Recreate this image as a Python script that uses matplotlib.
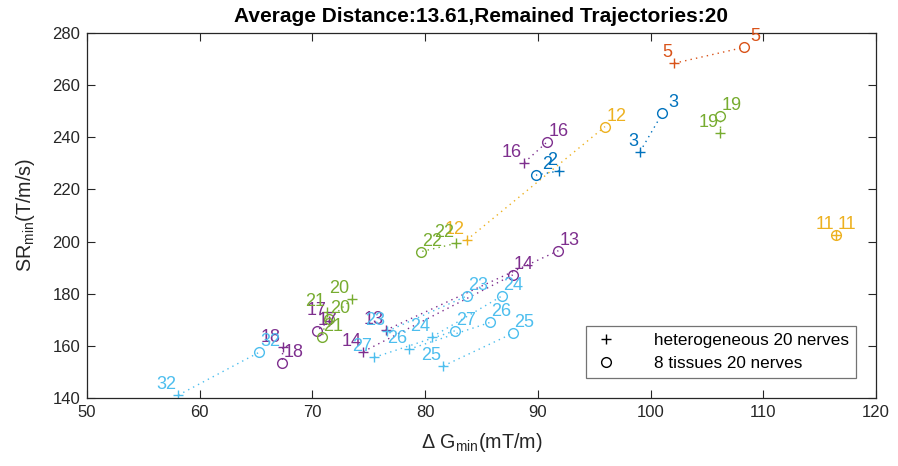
import matplotlib
matplotlib.use("Agg")
import matplotlib.pyplot as plt
from matplotlib.lines import Line2D

plt.rcParams['font.family'] = ['Liberation Sans', 'DejaVu Sans']
plt.rcParams['mathtext.fontset'] = 'custom'
plt.rcParams['mathtext.rm'] = 'Liberation Sans'
plt.rcParams['mathtext.it'] = 'Liberation Sans:italic'

# trajectory ids and their minimum gradient / slew rate for both models
traj_ids = [2, 3, 5, 11, 12, 13, 14, 16, 17, 18, 19, 20, 21, 22, 23, 24, 25, 26, 27, 32]
g_het = [91.88, 99.07, 102.1, 116.46, 83.69, 76.5, 74.52, 88.8, 71.47, 67.36,
         106.2, 73.49, 71.3, 82.74, 76.65, 80.64, 81.62, 78.57, 75.49, 58.1]
sr_het = [227.1, 234.5, 268.4, 202.5, 200.6, 166.0, 157.8, 230.3, 169.5, 159.4,
          241.8, 177.9, 173.0, 199.3, 165.6, 163.5, 152.3, 158.7, 155.6, 141.1]
g_tis = [89.84, 101.05, 108.3, 116.46, 95.96, 91.82, 87.77, 90.84, 70.38, 67.33,
         106.2, 71.5, 70.88, 79.6, 83.69, 86.8, 87.77, 85.76, 82.65, 65.26]
sr_tis = [225.5, 249.2, 274.5, 202.5, 244.1, 196.5, 187.2, 238.3, 165.8, 153.5,
          248.2, 170.2, 163.3, 196.1, 179.1, 179.1, 164.8, 169.0, 165.8, 157.5]

BLUE = (0.0, 0.447, 0.741)
ORANGE = (0.85, 0.325, 0.098)
YELLOW = (0.929, 0.694, 0.125)
PURPLE = (0.494, 0.184, 0.556)
GREEN = (0.466, 0.674, 0.188)
CYAN = (0.301, 0.745, 0.933)
traj_colors = [BLUE, BLUE, ORANGE, YELLOW, YELLOW, PURPLE, PURPLE, PURPLE, PURPLE, PURPLE,
               GREEN, GREEN, GREEN, GREEN, CYAN, CYAN, CYAN, CYAN, CYAN, CYAN]

avg_dist = 13.61
AX_COLOR = (0.15, 0.15, 0.15)

fig = plt.figure(figsize=(8.98, 4.66), dpi=100)
ax = fig.add_axes([87 / 898, 1 - 398 / 466, (876 - 87) / 898, (398 - 33) / 466])

# each trajectory: dotted link from the heterogeneous (+) to the 8-tissue (o) result
for tid, xh, yh, xt, yt, c in zip(traj_ids, g_het, sr_het, g_tis, sr_tis, traj_colors):
    ax.plot([xh, xt], [yh, yt], linestyle=(0, (1, 3)), color=c, lw=1.0, zorder=1)
    ax.plot(xh, yh, '+', color=c, ms=7, mew=1.0, zorder=2)
    ax.plot(xt, yt, 'o', color=c, mfc='none', ms=7, mew=1.0, zorder=2)
    ax.annotate(str(tid), (xh, yh), xytext=(-1.5, 7.5), textcoords='offset points',
                ha='right', va='center', color=c, fontsize=13)
    ax.annotate(str(tid), (xt, yt), xytext=(8, 7.5), textcoords='offset points',
                ha='center', va='center', color=c, fontsize=13)

ax.set_xlim(50, 120)
ax.set_ylim(140, 280)
ax.set_xticks(range(50, 121, 10))
ax.set_yticks(range(140, 281, 20))
ax.tick_params(direction='in', length=5.5, width=0.8, top=True, right=True,
               labelsize=12, colors=AX_COLOR, pad=5)
for sp in ax.spines.values():
    sp.set_color(AX_COLOR)
    sp.set_linewidth(0.9)

ax.set_xlabel(r'Δ G$_{\mathrm{min}}$(mT/m)', fontsize=14.2, color=AX_COLOR, labelpad=8)
ax.set_ylabel(r'SR$_{\mathrm{min}}$(T/m/s)', fontsize=14.2, color=AX_COLOR, labelpad=11)
ax.set_title(f'Average Distance:{avg_dist:.2f},Remained Trajectories:{len(traj_ids)}',
             fontsize=15, fontweight='bold', color='black', pad=8)

handles = [Line2D([], [], marker='+', color='black', ls='none', ms=7, mew=1.0),
           Line2D([], [], marker='o', color='black', mfc='none', ls='none', ms=7, mew=1.0)]
leg = ax.legend(handles, ['heterogeneous 20 nerves', '8 tissues 20 nerves'],
                loc='lower right', bbox_to_anchor=(0.9747, 0.0548), borderaxespad=0,
                fontsize=12.3, frameon=True, fancybox=False, framealpha=1,
                borderpad=0.4, labelspacing=0.5, handlelength=1.6, handletextpad=2.0)
leg.get_frame().set_edgecolor((0.45, 0.45, 0.45))
leg.get_frame().set_linewidth(0.9)

fig.savefig('out.png', dpi=100)
